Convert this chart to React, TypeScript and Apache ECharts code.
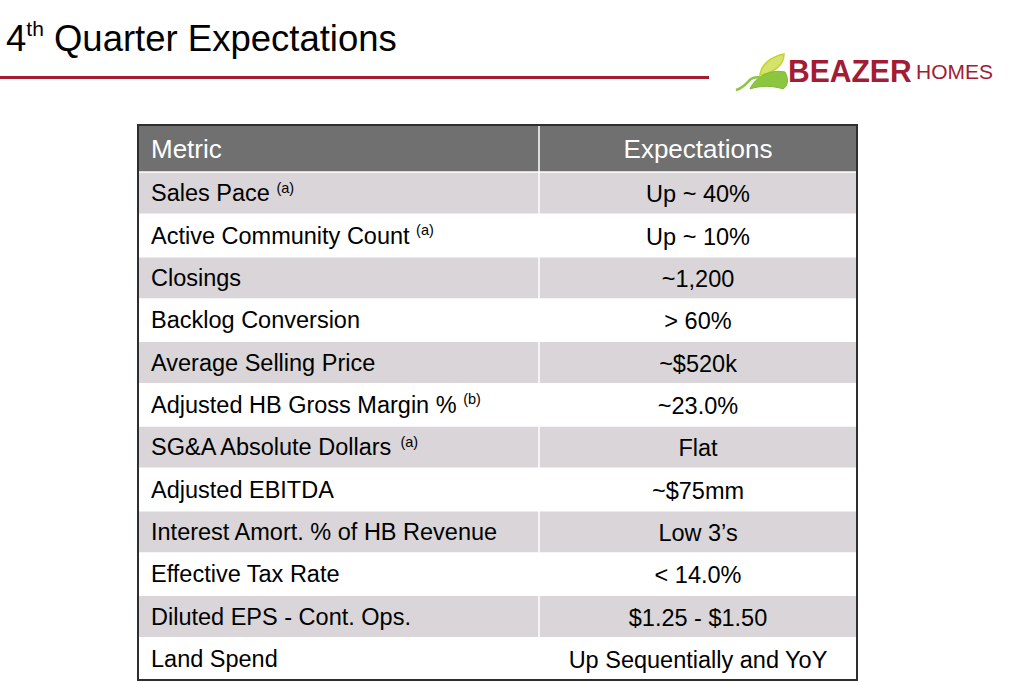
import React, { useEffect, useRef } from "react";
import * as echarts from "echarts";

const title = "Quarter Expectations";
const headers = ["Metric", "Expectations"];
const metrics = [
  "Sales Pace",
  "Active Community Count",
  "Closings",
  "Backlog Conversion",
  "Average Selling Price",
  "Adjusted HB Gross Margin %",
  "SG&A Absolute Dollars",
  "Adjusted EBITDA",
  "Interest Amort. % of HB Revenue",
  "Effective Tax Rate",
  "Diluted EPS - Cont. Ops.",
  "Land Spend",
];
const notes = ["(a)", "(a)", "", "", "", "(b)", "(a)", "", "", "", "", ""];
const expectations = [
  "Up ~ 40%",
  "Up ~ 10%",
  "~1,200",
  "> 60%",
  "~$520k",
  "~23.0%",
  "Flat",
  "~$75mm",
  "Low 3\u2019s",
  "< 14.0%",
  "$1.25 - $1.50",
  "Up Sequentially and YoY",
];

echarts.graphic.registerShape(
  "leafLow",
  echarts.graphic.extendPath(
    "M 750 89 C 755 77, 770 69, 785 72 C 789 79, 788 86, 783 89 C 775 86, 761 85, 750 89 Z",
    {}
  )
);
echarts.graphic.registerShape(
  "leafHigh",
  echarts.graphic.extendPath(
    "M 760 75 C 761 65, 770 57, 784 54 C 784 64, 776 72, 760 75 Z",
    {}
  )
);
echarts.graphic.registerShape(
  "stem",
  echarts.graphic.extendPath(
    "M 736 90 C 744 88, 747 82, 751 79 C 755 76, 762 77, 767 80",
    {}
  )
);

const FONT = "Liberation Sans, Arial, sans-serif";

export default function App() {
  const ref = useRef<HTMLDivElement>(null);
  useEffect(() => {
    if (!ref.current) return;
    const chart = echarts.init(ref.current, undefined, { renderer: "svg" });
    const L = 138, R = 857, T = 125, B = 680, HDR = 172, MID = 539;
    const rowH = (B - HDR) / metrics.length;
    const els: any[] = [];
    els.push({ type: "rect", shape: { x: L, y: T, width: R - L, height: HDR - T }, style: { fill: "#707070" } });
    metrics.forEach((m, i) => {
      const y = HDR + i * rowH;
      els.push({
        type: "rect",
        shape: { x: L, y, width: R - L, height: rowH },
        style: { fill: i % 2 === 0 ? "#D9D5D8" : "#FFFFFF" },
      });
    });
    for (let i = 0; i < metrics.length; i++) {
      const y = HDR + i * rowH;
      els.push({ type: "line", shape: { x1: L, y1: y, x2: R, y2: y }, style: { stroke: "#FFFFFF", lineWidth: 1.5 } });
    }
    els.push({ type: "line", shape: { x1: MID, y1: T, x2: MID, y2: B }, style: { stroke: "#FFFFFF", lineWidth: 1.5 } });
    els.push({ type: "rect", shape: { x: L, y: T, width: R - L, height: B - T }, style: { fill: "none", stroke: "#2E2E2E", lineWidth: 2 } });
    els.push({ type: "text", x: 151, y: (T + HDR) / 2, style: { text: headers[0], fill: "#FFFFFF", font: `26px ${FONT}`, textVerticalAlign: "middle" } });
    els.push({ type: "text", x: (MID + R) / 2, y: (T + HDR) / 2, style: { text: headers[1], fill: "#FFFFFF", font: `26px ${FONT}`, textAlign: "center", textVerticalAlign: "middle" } });
    metrics.forEach((m, i) => {
      const cy = HDR + i * rowH + rowH / 2;
      const txt = notes[i] ? `{n|${m} }{s|${notes[i]}}` : `{n|${m}}`;
      els.push({
        type: "text",
        x: 151,
        y: cy,
        style: {
          text: txt,
          textVerticalAlign: "middle",
          rich: {
            n: { fontSize: 23.5, fontFamily: FONT, fill: "#000000", lineHeight: 26 },
            s: { fontSize: 14.5, fontFamily: FONT, fill: "#000000", verticalAlign: "top", lineHeight: 24 },
          },
        },
      });
      els.push({
        type: "text",
        x: (MID + R) / 2,
        y: cy + 1,
        style: { text: expectations[i], fill: "#000000", font: `23.5px ${FONT}`, textAlign: "center", textVerticalAlign: "middle" },
      });
    });
    els.push({
      type: "text",
      x: 6,
      y: 38,
      style: {
        text: `{b|4}{s|th}{b| ${title}}`,
        textVerticalAlign: "middle",
        rich: {
          b: { fontSize: 36.5, fontFamily: FONT, fill: "#000000", lineHeight: 40 },
          s: { fontSize: 21, fontFamily: FONT, fill: "#000000", verticalAlign: "top", lineHeight: 36 },
        },
      },
    });
    els.push({ type: "rect", shape: { x: 0, y: 76, width: 709, height: 3 }, style: { fill: "#A51C30" } });
    els.push({ type: "leafHigh", x: 0, y: 0, style: { fill: "#D6E36A", stroke: "#C2D52E", lineWidth: 1.5 } });
    els.push({ type: "leafLow", x: 0, y: 0, style: { fill: "#8CC63F", stroke: "#7DB83A", lineWidth: 1 } });
    els.push({ type: "stem", x: 0, y: 0, style: { fill: "none", stroke: "#8CC63F", lineWidth: 2.5 } });
    els.push({ type: "text", x: 788, y: 71, scaleX: 0.94, style: { text: "BEAZER", fill: "#A21C34", font: `bold 32px ${FONT}`, textVerticalAlign: "middle" } });
    els.push({ type: "text", x: 916, y: 71, style: { text: "HOMES", fill: "#A21C34", font: `21px ${FONT}`, textVerticalAlign: "middle" } });

    chart.setOption({ animation: false, graphic: { elements: els } });
    return () => chart.dispose();
  }, []);
  return <div ref={ref} style={{ position: "fixed", left: 0, top: 0, width: 1013, height: 682, background: "#fff" }} />;
}
